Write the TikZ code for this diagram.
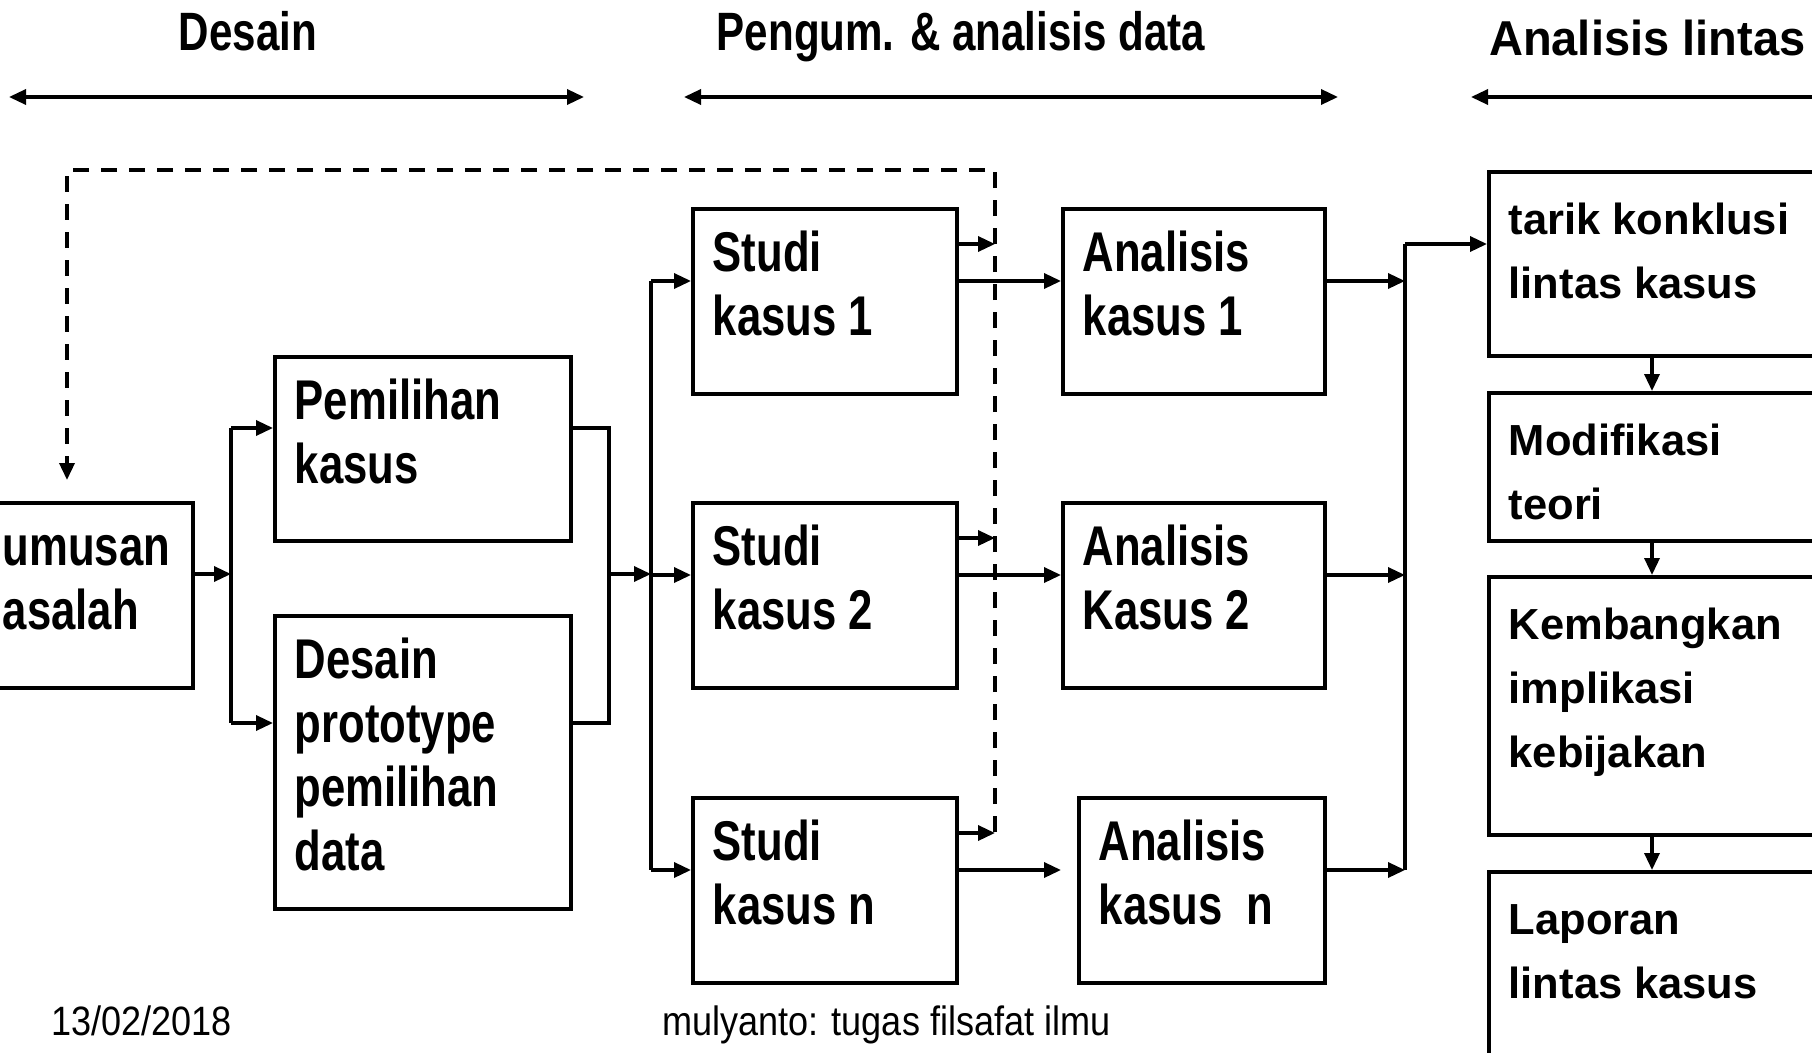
\documentclass[tikz,border=0pt]{standalone}
\usepackage{fontspec}
\setmainfont{Liberation Sans}
\newfontfamily\sempit[FakeStretch=0.78]{Liberation Sans}
\newfontfamily\agak[FakeStretch=0.88]{Liberation Sans}
\newfontfamily\lebar[FakeStretch=0.96]{Liberation Sans}
\usetikzlibrary{arrows.meta,positioning,calc}

\begin{document}
\begin{tikzpicture}[x=1pt,y=-1pt,line width=3.5pt,>={Triangle[length=17pt,width=15pt]}]
\tikzstyle{kotak}=[draw,rectangle,anchor=north west,inner xsep=20pt,inner ysep=18pt,align=left]
\tikzstyle{isi}=[kotak,font=\sempit\bfseries\fontsize{56}{64}\selectfont]
\tikzstyle{isiLebar}=[kotak,font=\bfseries\fontsize{43.5}{64}\selectfont]
\tikzstyle{panah}=[->,line width=3.4pt]
\tikzstyle{umpan}=[->,line width=3.5pt,dash pattern=on 16pt off 12pt]
\tikzstyle{judul}=[font=\sempit\bfseries\fontsize{54}{60}\selectfont,anchor=base]
\tikzstyle{catatan}=[font=\agak\fontsize{41}{48}\selectfont,anchor=base west]

\useasboundingbox (0,0) rectangle (1812,1052);

% box: style, name, x, y, width, height, text
\newcommand{\boks}[7]{
\node[#1] (#2) at (#3,#4) {\parbox[c][\dimexpr#6pt-36pt\relax][t]{\dimexpr#5pt-40pt\relax}{\raggedright\strut #7}};
}

% headers
\node[judul] (desain) at (248,50) {Desain};
\node[judul] (pengum) at (961,50) {Pengum. \& analisis data};
\node[judul,font=\lebar\bfseries\fontsize{49}{56}\selectfont,anchor=base west] (lintas) at (1484,55) {Analisis lintas};
\coordinate (h1a) at (9,97);    \coordinate (h1b) at (584,97);
\coordinate (h2a) at (684,97);  \coordinate (h2b) at (1338,97);
\coordinate (h3a) at (1471,97); \coordinate (h3b) at (1830,97);
\foreach \a/\b in {h1a/h1b,h2a/h2b,h3a/h3b}
    \draw[<->,line width=3.4pt] (\a) -- (\b);

% desain
\boks{isi}{rumusan}{-19}{501}{210}{185}{umusan\\asalah}
\boks{isi}{pemilihan}{273}{355}{296}{184}{Pemilihan\\kasus}
\boks{isi}{prototipe}{273}{614}{296}{293}{Desain\\prototype\\pemilihan\\data}

\coordinate (busKiri) at (231,574);
\coordinate (masuk1) at (231,428);
\coordinate (masuk2) at (231,723);
\coordinate (gabung) at (609,574);
\draw[panah] (rumusan.east |- busKiri) -- (busKiri);
\draw (masuk1) -- (masuk2);
\draw[panah] (masuk1) -- (masuk1 -| pemilihan.west);
\draw[panah] (masuk2) -- (masuk2 -| prototipe.west);
\draw (masuk1 -| pemilihan.east) -| (masuk2 -| gabung) -- (masuk2 -| prototipe.east);

% studi kasus & analisis kasus
\coordinate (busTengah) at (651,281);
\coordinate (umpanKanan) at (995,832);
\coordinate (busKanan) at (1405,244);
\foreach \i/\atas/\studi/\anal/\ax/\aw in {
    1/207/{Studi\\kasus 1}/{Analisis\\kasus 1}/1061/262,
    2/501/{Studi\\kasus 2}/{Analisis\\Kasus 2}/1061/262,
    n/796/{Studi\\kasus n}/{Analisis\\kasus\ \ n}/1077/246}{
\boks{isi}{sk\i}{691}{\atas}{264}{185}{\studi}
\boks{isi}{ak\i}{\ax}{\atas}{\aw}{185}{\anal}
\coordinate (kecil\i) at ($(sk\i.north east)+(0,37)$);
\coordinate (jalur\i) at ($(sk\i.north east)+(0,74)$);
\draw[panah] (kecil\i) -- (kecil\i -| umpanKanan);
\draw[panah] (jalur\i) -- (jalur\i -| ak1.west);
\draw[panah] (jalur\i -| busTengah) -- (jalur\i -| sk\i.west);
\draw[panah] (jalur\i -| ak\i.east) -- (jalur\i -| busKanan);
}
\draw[panah] (gabung) -- (gabung -| busTengah);
\draw (jalur1 -| busTengah) -- (jalurn -| busTengah);
\draw (busKanan) -- (jalurn -| busKanan);

% umpan balik
\coordinate (umpanKiri) at (67,170);
\draw[umpan] (umpanKanan) |- (umpanKiri) -- ($(umpanKiri |- rumusan.north)+(0,-21)$);

% analisis lintas kasus
\boks{isiLebar}{tarik}{1487}{170}{400}{184}{tarik konklusi\\lintas kasus}
\boks{isiLebar}{modif}{1487}{391}{400}{148}{Modifikasi\\teori}
\boks{isiLebar}{kembang}{1487}{575}{400}{258}{Kembangkan\\implikasi\\kebijakan}
\boks{isiLebar}{laporan}{1487}{870}{400}{250}{Laporan\\lintas kasus}
\draw[panah] (busKanan) -- (busKanan -| tarik.west);
\coordinate (turun) at (1652,0);
\foreach \a/\b in {tarik/modif,modif/kembang,kembang/laporan}
    \draw[panah] (\a.south -| turun) -- (\b.north -| turun);

% footer
\node[catatan] (tanggal) at (46,1035) {13/02/2018};
\node[catatan] (penulis) at (657,1035) {mulyanto: tugas filsafat ilmu};
\end{tikzpicture}
\end{document}
